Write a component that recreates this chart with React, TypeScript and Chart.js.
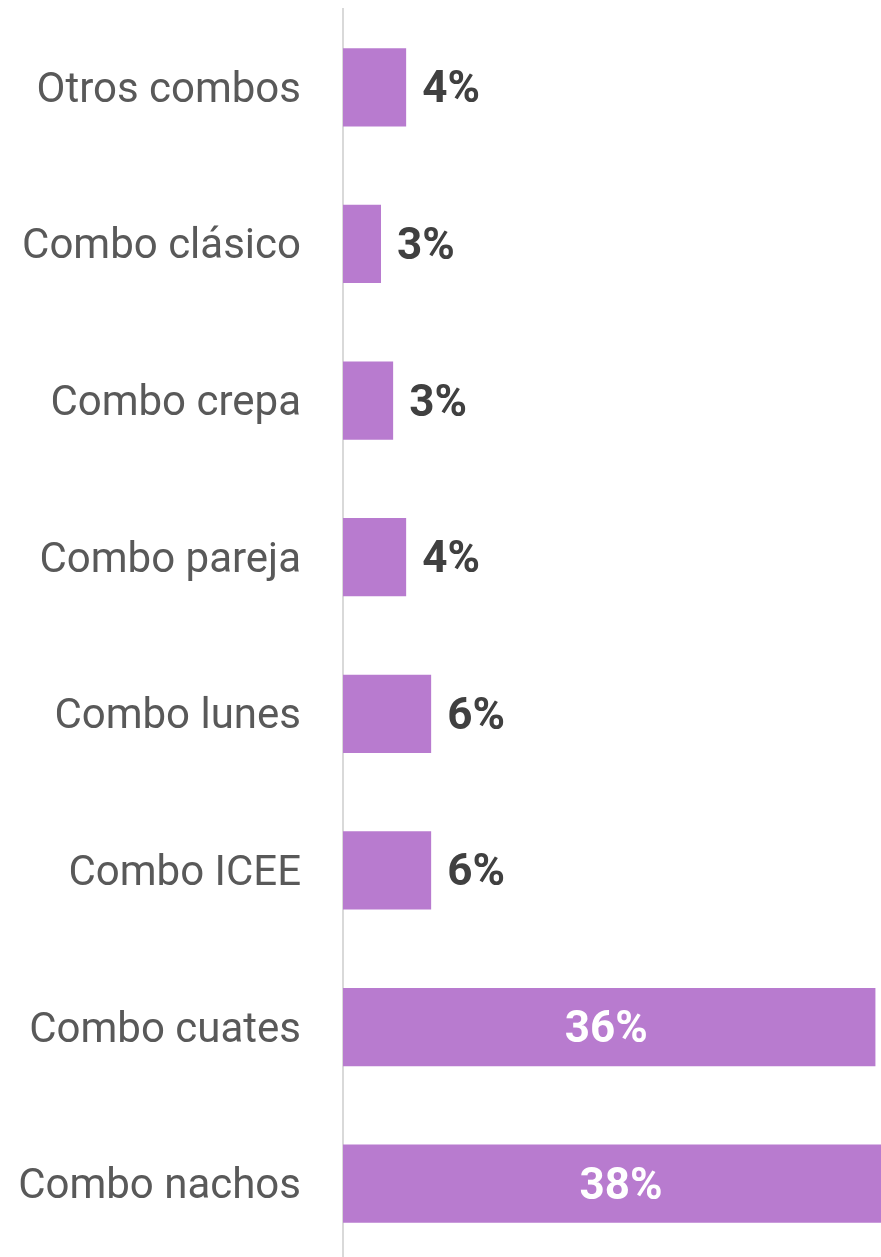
import React, { useEffect, useRef } from "react";
import { Chart, registerables } from "chart.js";

Chart.register(...registerables);

const categories = [
  "Otros combos",
  "Combo clásico",
  "Combo crepa",
  "Combo pareja",
  "Combo lunes",
  "Combo ICEE",
  "Combo cuates",
  "Combo nachos",
];
const shares = [4.27, 2.57, 3.39, 4.27, 5.96, 5.96, 36, 38];
const insideThreshold = 20;

const BAR_COLOR = "#B87BCF";
const FONT = "Roboto, 'Noto Sans', sans-serif";

const valueLabels = {
  id: "valueLabels",
  afterDatasetsDraw(chart: any) {
    const ctx = chart.ctx;
    const meta = chart.getDatasetMeta(0);
    ctx.save();
    ctx.font = `bold 44px ${FONT}`;
    ctx.textBaseline = "middle";
    meta.data.forEach((bar: any, i: number) => {
      const v = shares[i];
      const txt = Math.round(v) + "%";
      if (v > insideThreshold) {
        ctx.fillStyle = "#FFFFFF";
        ctx.textAlign = "center";
        ctx.fillText(txt, (bar.x + bar.base) / 2 - 3, bar.y + 4);
      } else {
        ctx.fillStyle = "#404040";
        ctx.textAlign = "left";
        ctx.fillText(txt, bar.x + 16, bar.y + 4);
      }
    });
    ctx.restore();
  },
};

export default function App() {
  const ref = useRef<HTMLCanvasElement>(null);
  useEffect(() => {
    if (!ref.current) return;
    const chart = new Chart(ref.current, {
      type: "bar",
      data: {
        labels: categories,
        datasets: [
          {
            data: shares,
            backgroundColor: BAR_COLOR,
            borderWidth: 0,
            barPercentage: 0.5,
            categoryPercentage: 1,
          },
        ],
      },
      options: {
        indexAxis: "y",
        responsive: false,
        animation: false,
        layout: { padding: { top: 9, right: 0, bottom: 0, left: 0 } },
        plugins: { legend: { display: false }, tooltip: { enabled: false } },
        scales: {
          x: {
            min: 0,
            max: 38,
            display: false,
            grid: { display: false },
          },
          y: {
            afterFit: (s: any) => {
              s.width = 343;
              s.paddingTop = 0;
              s.paddingBottom = 0;
            },
            grid: { display: false, drawTicks: false },
            border: { display: true, color: "#D9D9D9", width: 2 },
            ticks: {
              padding: 42,
              labelOffset: 4,
              color: "#595959",
              font: { family: FONT, size: 42 },
            },
          },
        },
      },
      plugins: [valueLabels],
    });
    return () => chart.destroy();
  }, []);
  return (
    <div
      style={{
        position: "absolute",
        left: 0,
        top: 0,
        width: 881,
        height: 1257,
        overflow: "hidden",
        background: "#fff",
      }}
    >
      <canvas ref={ref} width={905} height={1262} style={{ display: "block" }} />
    </div>
  );
}
